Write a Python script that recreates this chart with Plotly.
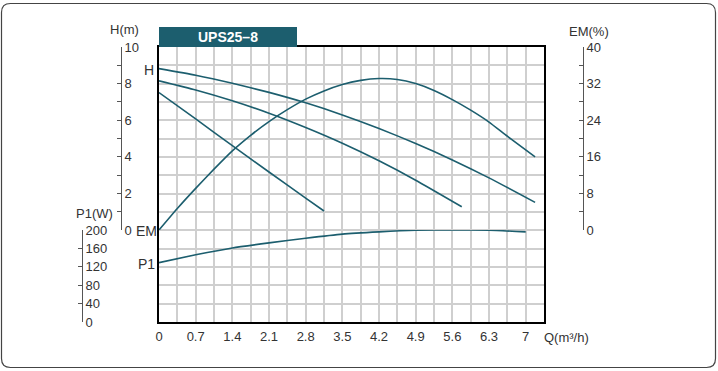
import plotly.graph_objects as go

# ---- data ----
Q_H1 = [0, 0.7, 1.4, 2.1, 2.8, 3.5, 4.2, 4.9, 5.6, 6.3, 7.18]
H1 = [8.82, 8.46, 8.02, 7.52, 6.95, 6.29, 5.55, 4.73, 3.83, 2.85, 1.51]

Q_H2 = [0, 0.7, 1.4, 2.1, 2.8, 3.5, 4.2, 4.9, 5.78]
H2 = [8.15, 7.65, 7.06, 6.38, 5.6, 4.74, 3.78, 2.72, 1.27]

Q_H3 = [0, 0.7, 1.4, 2.1, 2.8, 3.15]
H3 = [7.51, 6.07, 4.61, 3.17, 1.74, 1.04]

Q_EM = [0, 0.35, 0.7, 1.05, 1.4, 1.75, 2.1, 2.45, 2.8, 3.15, 3.5, 3.85, 4.2, 4.55,
        4.9, 5.25, 5.6, 5.95, 6.3, 6.65, 7.18]
EM = [0, 4.7, 9.1, 13.3, 17.3, 20.7, 23.7, 26.3, 28.6, 30.4, 31.8, 32.7, 33.1, 32.9,
      32.0, 30.5, 28.5, 26.2, 23.6, 20.5, 16.0]

Q_P1 = [0, 0.7, 1.4, 2.1, 2.8, 3.5, 4.2, 4.9, 5.6, 6.3, 7.0]
P1 = [129, 146, 161, 172, 182, 191, 196, 199.5, 200, 199.5, 196]

Q_TICKS = [0, 0.7, 1.4, 2.1, 2.8, 3.5, 4.2, 4.9, 5.6, 6.3, 7]
H_TICKS = [0, 2, 4, 6, 8, 10]
EM_TICKS = [0, 8, 16, 24, 32, 40]
P1_TICKS = [0, 40, 80, 120, 160, 200]

TEAL = "rgb(28,94,110)"
GRID = "#cfcfcf"
TXT = "#333333"
AXC = "#555555"
FONT = "Liberation Sans, Arial, sans-serif"
FS = 13

W, H = 718, 371
L, R, T, B = 159, 544, 47, 322


def px(x):
    return x / W


def py(y):
    return (H - y) / H


fig = go.Figure()
# grid subplot (x, y) first so its grid stays under every curve
fig.add_trace(go.Scatter(x=[0], y=[0], mode="markers", marker=dict(opacity=0),
                         hoverinfo="skip", showlegend=False))
line = dict(color=TEAL, width=1.6, shape="spline", smoothing=0.5)
for q, h in [(Q_H1, H1), (Q_H2, H2), (Q_H3, H3)]:
    fig.add_trace(go.Scatter(x=q, y=h, mode="lines", line=line, xaxis="x2", yaxis="y2",
                             hoverinfo="skip", showlegend=False))
fig.add_trace(go.Scatter(x=Q_EM, y=EM, mode="lines", line=line, xaxis="x2", yaxis="y3",
                         hoverinfo="skip", showlegend=False))
fig.add_trace(go.Scatter(x=Q_P1, y=P1, mode="lines", line=line, xaxis="x2", yaxis="y4",
                         hoverinfo="skip", showlegend=False))

xgrid = [round(i * 0.35, 2) for i in range(22)]
xtext = [("%g" % v) if (i % 2 == 0 and i <= 20) else "" for i, v in enumerate(xgrid)]

main_dom = [py(B), py(T)]
h_dom = [py(230), py(T)]
p_dom = [py(B), py(230)]

axis_common = dict(side="right", ticks="inside", ticklen=4, tickcolor=AXC,
                   showline=True, linecolor=AXC, linewidth=1, showgrid=False,
                   zeroline=False, anchor="free", automargin=False,
                   tickfont=dict(size=FS, color=TXT))

fig.update_layout(
    width=W, height=H,
    margin=dict(l=0, r=0, t=0, b=0, pad=0, autoexpand=False),
    paper_bgcolor="white", plot_bgcolor="rgba(0,0,0,0)",
    font=dict(family=FONT, size=FS, color=TXT),
    xaxis=dict(domain=[px(L), px(R)], range=[0, 7.35], tickvals=xgrid, ticktext=xtext,
               showgrid=True, gridcolor=GRID, gridwidth=2, zeroline=False,
               showline=True, linecolor="black", linewidth=1.5, mirror=True, ticks="",
               ticklabelstandoff=2, automargin=False, tickfont=dict(size=FS, color=TXT)),
    xaxis2=dict(domain=[px(L), px(R)], range=[0, 7.35], anchor="y2", visible=False,
                showgrid=False, zeroline=False),
    yaxis=dict(domain=main_dom, range=[-5, 10], tickvals=list(range(-5, 11)),
               showticklabels=False, showgrid=True, gridcolor=GRID, gridwidth=2,
               zeroline=False, showline=True, linecolor="black", linewidth=1.5,
               mirror=True, ticks="", automargin=False),
    yaxis2=dict(domain=h_dom, range=[0, 10], position=px(121),
                tickvals=list(range(0, 11)),
                ticktext=[str(v) if v in H_TICKS else "" for v in range(0, 11)],
                **axis_common),
    yaxis3=dict(domain=h_dom, range=[0, 40], position=px(583),
                tickvals=list(range(0, 41, 4)),
                ticktext=[str(v) if v in EM_TICKS else "" for v in range(0, 41, 4)],
                **axis_common),
    yaxis4=dict(domain=p_dom, range=[0, 200], position=px(82),
                tickvals=P1_TICKS, ticktext=[str(v) for v in P1_TICKS],
                **axis_common),
)

shapes = []
# outer rounded frame
x0, x1, y0, y1, r = 1.5, 715.5, 3.5, 367.5, 9
path = (f"M {px(x0 + r)},{py(y0)} L {px(x1 - r)},{py(y0)} "
        f"Q {px(x1)},{py(y0)} {px(x1)},{py(y0 + r)} L {px(x1)},{py(y1 - r)} "
        f"Q {px(x1)},{py(y1)} {px(x1 - r)},{py(y1)} L {px(x0 + r)},{py(y1)} "
        f"Q {px(x0)},{py(y1)} {px(x0)},{py(y1 - r)} L {px(x0)},{py(y0 + r)} "
        f"Q {px(x0)},{py(y0)} {px(x0 + r)},{py(y0)} Z")
shapes.append(dict(type="path", xref="paper", yref="paper", path=path,
                   line=dict(color="#444444", width=1.2)))
# title band
shapes.append(dict(type="rect", xref="paper", yref="paper", x0=px(159), x1=px(297),
                   y0=py(47), y1=py(27), fillcolor=TEAL, line=dict(width=0)))
fig.update_layout(shapes=shapes)


def ann(text, x, y, xanchor="center", size=FS, color=TXT, bold=False):
    fig.add_annotation(text=f"<b>{text}</b>" if bold else text, x=px(x), y=py(y),
                       xref="paper", yref="paper", showarrow=False, xanchor=xanchor,
                       yanchor="middle", font=dict(size=size, color=color, family=FONT))


ann("H(m)", 124, 29)
ann("P1(W)", 94, 213)
ann("EM(%)", 589, 32)
ann("Q(m³/h)", 542, 337, xanchor="left")
ann("H", 149, 70, size=14)
ann("EM", 146, 231, size=14)
ann("P1", 146, 264, size=14)
ann("UPS25–8", 228, 37, size=14, color="white", bold=True)

fig.write_html("out.html")
